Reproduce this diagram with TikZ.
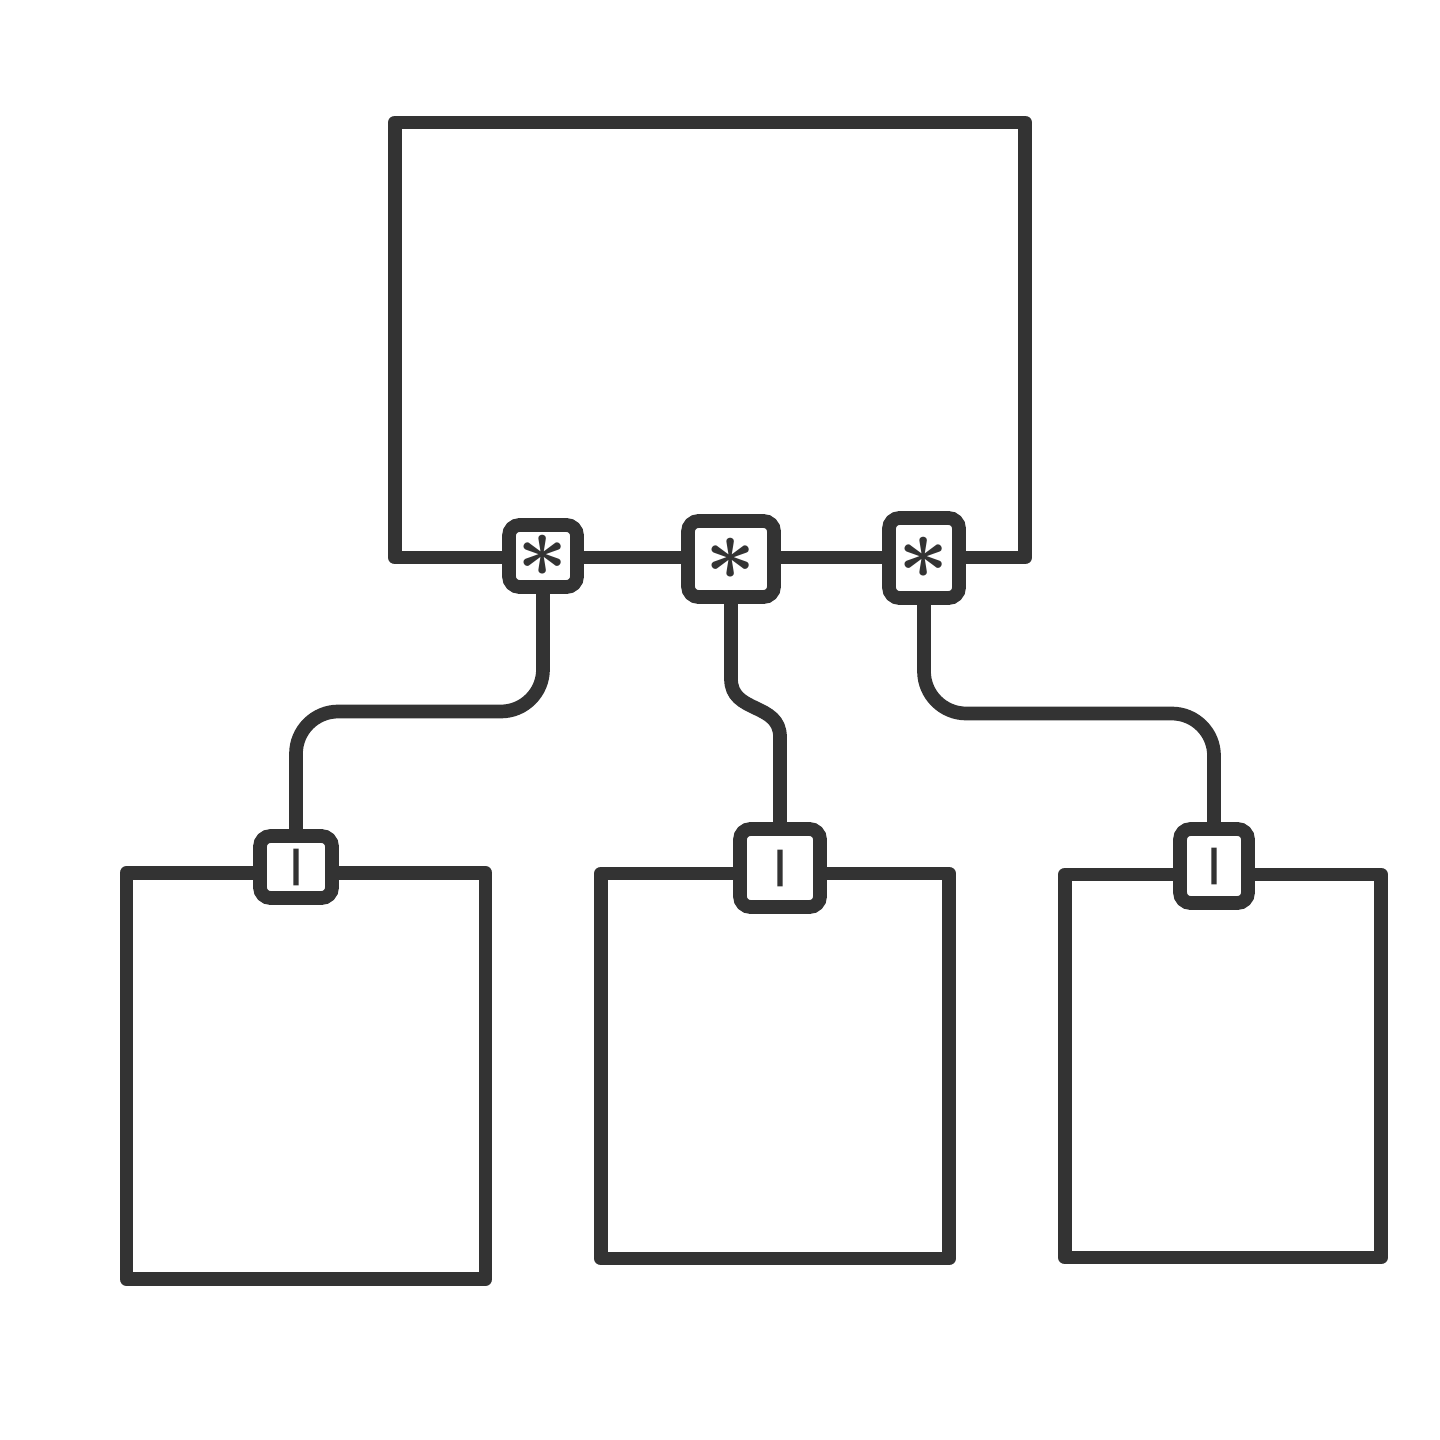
\documentclass[tikz,border=0pt]{standalone}
\usepackage{fontspec}
\usetikzlibrary{calc}
\newfontfamily\markfont[FakeBold=4]{DejaVu Sans Bold}
\definecolor{sketchgrey}{RGB}{51,51,51}
\tikzset{
	classbox/.style={draw=sketchgrey, line width=3.9pt, line join=round, inner sep=0pt},
	multbox/.style={draw=sketchgrey, fill=white, line width=3.9pt, rounded corners=3pt, inner sep=0pt, text=sketchgrey},
	wire/.style={draw=sketchgrey, line width=3.9pt, line cap=round, rounded corners=12pt},
	manymark/.style={font=\fontsize{28}{28}\selectfont\boldmath},
	onemark/.style={font=\markfont\fontsize{10}{10}\selectfont}
}

\begin{document}
\begin{tikzpicture}[x=0.01cm,y=-0.01cm]
	\useasboundingbox (0,0) rectangle (1440,1440);
	% classes
	\node[classbox, minimum width=6.3cm, minimum height=4.35cm] (owner) at (710,340) {};
	\node[classbox, minimum width=3.59cm, minimum height=4.06cm] (partA) at (306,1076) {};
	\node[classbox, minimum width=3.48cm, minimum height=3.85cm] (partB) at (775,1066) {};
	\node[classbox, minimum width=3.16cm, minimum height=3.83cm] (partC) at (1223,1066) {};
	% multiplicities on the owner
	\node[multbox, manymark, minimum width=0.68cm, minimum height=0.62cm] (manyA) at (543,556) {$\ast$};
	\node[multbox, manymark, minimum width=0.86cm, minimum height=0.76cm] (manyB) at (731,559) {$\ast$};
	\node[multbox, manymark, minimum width=0.70cm, minimum height=0.80cm] (manyC) at (924,558) {$\ast$};
	% multiplicities on the parts
	\node[multbox, onemark, minimum width=0.72cm, minimum height=0.62cm] (oneA) at (296,867) {|};
	\node[multbox, onemark, minimum width=0.80cm, minimum height=0.78cm] (oneB) at (780,868) {|};
	\node[multbox, onemark, minimum width=0.68cm, minimum height=0.74cm] (oneC) at (1214,866) {|};
	% links
	\draw[wire] (manyA.south) |- ($(manyA.south)!.5!(oneA.north)$) -| (oneA.north);
	\draw[wire, rounded corners=0pt] (manyB.south) -- ++(0,75) .. controls +(0,35) and +(0,-35) .. ($(oneB.north)+(0,-85)$) -- (oneB.north);
	\draw[wire] (manyC.south) |- ($(manyC.south)!.5!(oneC.north)$) -| (oneC.north);
\end{tikzpicture}
\end{document}
